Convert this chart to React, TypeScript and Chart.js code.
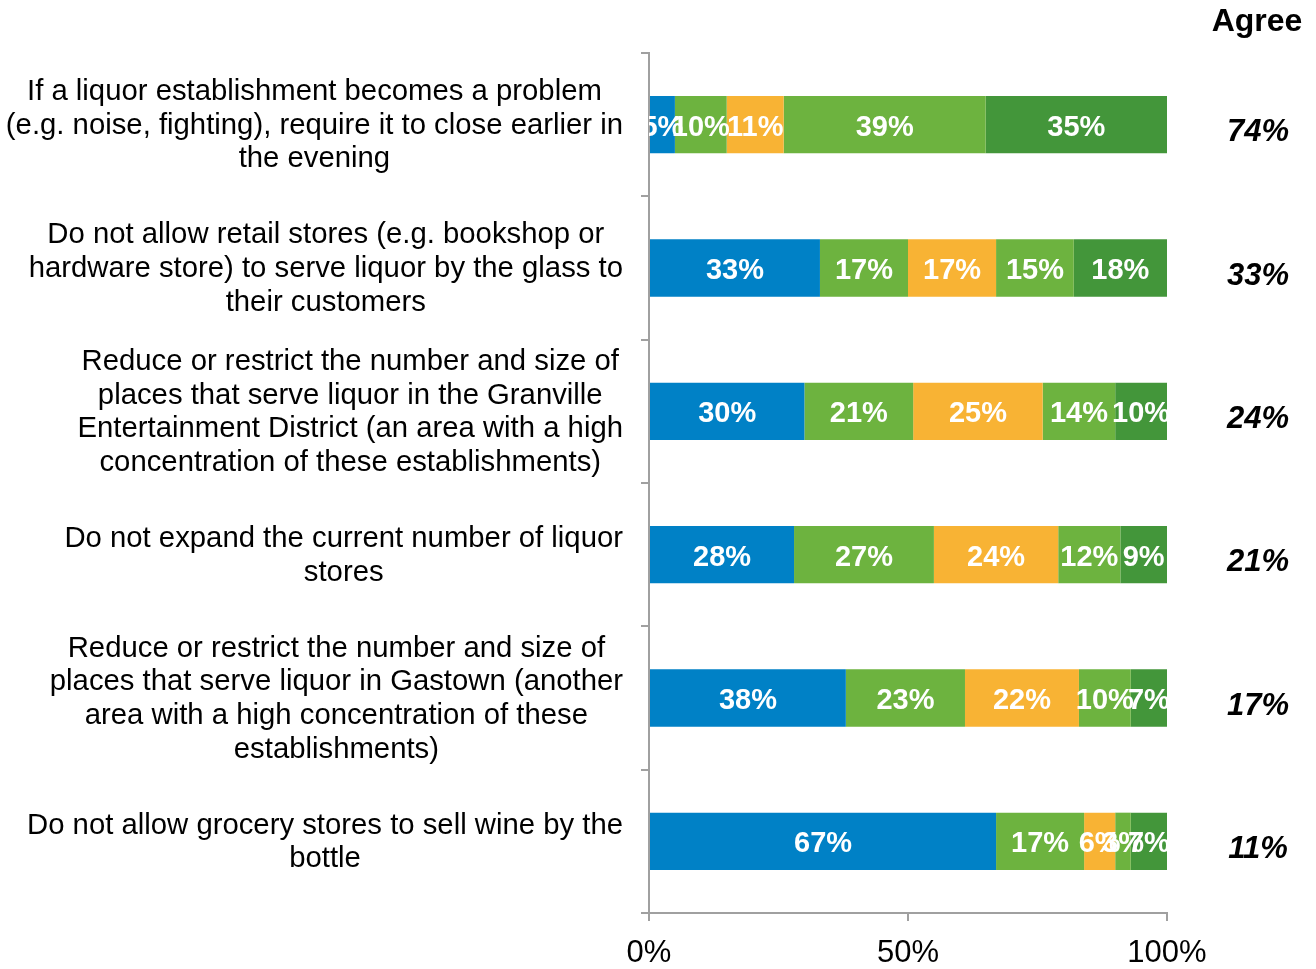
import React, { useEffect, useRef } from "react";
import { Chart, registerables } from "chart.js";

Chart.register(...registerables);

const categories: string[][] = [
  ["If a liquor establishment becomes a problem", "(e.g. noise, fighting), require it to close earlier in", "the evening"],
  ["Do not allow retail stores (e.g. bookshop or", "hardware store) to serve liquor by the glass to", "their customers"],
  ["Reduce or restrict the number and size of", "places that serve liquor in the Granville", "Entertainment District (an area with a high", "concentration of these establishments)"],
  ["Do not expand the current number of liquor", "stores"],
  ["Reduce or restrict the number and size of", "places that serve liquor in Gastown (another", "area with a high concentration of these", "establishments)"],
  ["Do not allow grocery stores to sell wine by the", "bottle"],
];

const series1 = [5, 33, 30, 28, 38, 67];
const series2 = [10, 17, 21, 27, 23, 17];
const series3 = [11, 17, 25, 24, 22, 6];
const series4 = [39, 15, 14, 12, 10, 3];
const series5 = [35, 18, 10, 9, 7, 7];
const agree = [74, 33, 24, 21, 17, 11];
const xTicks = [0, 50, 100];

const colors = ["#0081C6", "#6DB33F", "#F8B334", "#6DB33F", "#43963A"];

const FONT = "'Liberation Sans', Arial, sans-serif";

const labelsPlugin = {
  id: "customLabels",
  afterDatasetsDraw(chart: any) {
    const { ctx, chartArea } = chart;
    ctx.save();
    ctx.beginPath();
    ctx.rect(chartArea.left, chartArea.top, chartArea.right - chartArea.left, chartArea.bottom - chartArea.top);
    ctx.clip();
    ctx.fillStyle = "#ffffff";
    ctx.font = `bold 29px ${FONT}`;
    ctx.textAlign = "center";
    ctx.textBaseline = "middle";
    chart.data.datasets.forEach((ds: any, di: number) => {
      const meta = chart.getDatasetMeta(di);
      meta.data.forEach((bar: any, i: number) => {
        const cx = (bar.x + bar.base) / 2;
        ctx.fillText(ds.data[i] + "%", cx, bar.y + 3);
      });
    });
    ctx.restore();
  },
  afterDraw(chart: any) {
    const { ctx, chartArea } = chart;
    const yScale = chart.scales.y;
    ctx.save();
    ctx.fillStyle = "#000000";
    ctx.font = `29.3px ${FONT}`;
    ctx.textAlign = "center";
    ctx.textBaseline = "middle";
    const lineH = 33.7;
    const rightEdge = chartArea.left - 26;
    categories.forEach((lines, i) => {
      const y = yScale.getPixelForValue(i);
      let maxW = 0;
      lines.forEach((l) => {
        maxW = Math.max(maxW, ctx.measureText(l).width);
      });
      const cx = rightEdge - maxW / 2;
      const n = lines.length;
      lines.forEach((l, j) => {
        ctx.fillText(l, cx, y + 1 + (j - (n - 1) / 2) * lineH);
      });
    });
    const ax = chartArea.right + 90;
    ctx.font = `bold 32px ${FONT}`;
    ctx.fillText("Agree", ax, 22);
    ctx.font = `italic bold 31px ${FONT}`;
    agree.forEach((v, i) => {
      const y = yScale.getPixelForValue(i);
      ctx.fillText(v + "%", ax + 1, y + 8);
    });
    ctx.restore();
  },
};

export default function App() {
  const ref = useRef<HTMLCanvasElement | null>(null);
  useEffect(() => {
    if (!ref.current) return;
    const seriesList = [series1, series2, series3, series4, series5];
    const chart = new Chart(ref.current, {
      type: "bar",
      data: {
        labels: categories.map((c) => c.join(" ")),
        datasets: seriesList.map((s, k) => ({
          label: "S" + (k + 1),
          data: s,
          backgroundColor: colors[k],
          borderWidth: 0,
          barPercentage: 0.4,
          categoryPercentage: 1,
        })),
      },
      options: {
        indexAxis: "y",
        responsive: false,
        animation: false,
        maintainAspectRatio: false,
        layout: { padding: { left: 0, right: 149, top: 53, bottom: 0 } },
        plugins: { legend: { display: false }, tooltip: { enabled: false } },
        scales: {
          x: {
            stacked: true,
            min: 0,
            max: 100,
            afterBuildTicks: (scale: any) => {
              scale.ticks = xTicks.map((v) => ({ value: v }));
            },
            afterFit: (scale: any) => {
              scale.height = 56;
            },
            ticks: {
              color: "#000000",
              font: { family: FONT, size: 31 },
              padding: 14,
              callback: (v: any) => v + "%",
            },
            grid: { drawOnChartArea: false, tickLength: 8, color: "#a0a0a0", lineWidth: 2 },
            border: { display: true, color: "#a0a0a0", width: 2 },
          },
          y: {
            stacked: true,
            afterFit: (scale: any) => {
              scale.width = 649;
            },
            ticks: { display: false },
            grid: { drawOnChartArea: false, tickLength: 8, color: "#a0a0a0", lineWidth: 2, offset: true },
            border: { display: true, color: "#a0a0a0", width: 2 },
          },
        },
      },
      plugins: [labelsPlugin],
    } as any);
    return () => chart.destroy();
  }, []);
  return (
    <div style={{ position: "absolute", left: 0, top: 0, width: 1316, height: 969, background: "#ffffff" }}>
      <canvas ref={ref} width={1316} height={969} style={{ width: 1316, height: 969 }} />
    </div>
  );
}
